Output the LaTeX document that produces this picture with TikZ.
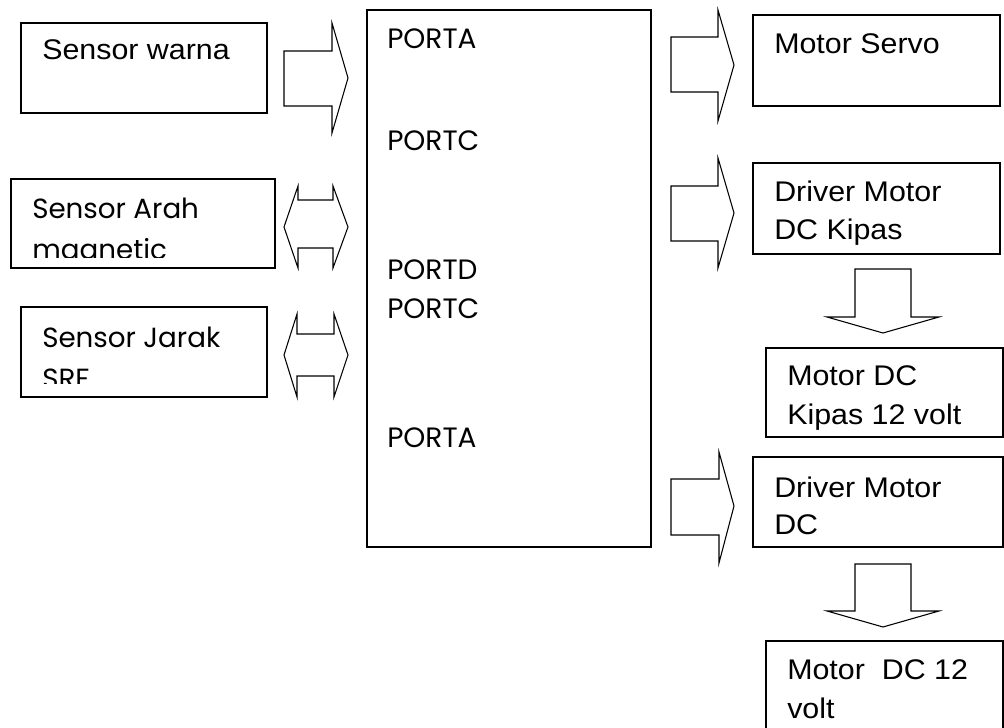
\documentclass[tikz,border=0pt]{standalone}
\usepackage{fontspec}
\newfontfamily\arialfont[FakeStretch=1.07]{Liberation Sans}
\newfontfamily\gothicfont{Poppins}
\begin{document}
\begin{tikzpicture}[x=0.75pt,y=-0.75pt,
  boxline/.style={draw=black,line width=0.8pt},
  blockarrow/.style={draw=black,line width=0.8pt,line join=miter,fill=white},
  arialtext/.style={anchor=base west,inner sep=0pt,font=\arialfont\fontsize{21.3pt}{25pt}\selectfont},
  gothtext/.style={anchor=base west,inner sep=0pt,font=\gothicfont\fontsize{20.8pt}{25pt}\selectfont},
  porttext/.style={anchor=base west,inner sep=0pt,font=\gothicfont\fontsize{21pt}{25pt}\selectfont}]
\useasboundingbox (0,0) rectangle (1004,728);
\fill[white] (0,0) rectangle (1004,728);

% left boxes
\draw[boxline] (21,23) rectangle (267,113);
\coordinate (warna) at (21,23);
\node[arialtext] (twarna) at (42,60) {Sensor warna};

\draw[boxline] (11,179) rectangle (275,268);
\coordinate (arah) at (11,179);
\node[gothtext] (tarah1) at (32,218) {Sensor Arah};
\begin{scope}
  \clip (11,179) rectangle (275,257);
  \node[gothtext] (tarah2) at (32,259) {magnetic};
\end{scope}

\draw[boxline] (21,307) rectangle (267,397);
\coordinate (jarak) at (21,307);
\node[gothtext] (tjarak1) at (42,347) {Sensor Jarak};
\begin{scope}
  \clip (21,307) rectangle (267,383);
  \node[gothtext] (tjarak2) at (42,388) {SRF};
\end{scope}

% microcontroller box
\draw[boxline] (367,10) rectangle (651,547);
\coordinate (mcu) at (367,10);
\node[porttext] (pa1) at (387,48) {PORTA};
\node[porttext] (pc1) at (387,150) {PORTC};
\node[porttext] (pd1) at (387,279) {PORTD};
\node[porttext] (pc2) at (387,318) {PORTC};
\node[porttext] (pa2) at (387,447) {PORTA};

% right boxes
\draw[boxline] (753,15) rectangle (1000,106);
\node[arialtext] (tservo) at (774,53) {Motor Servo};

\draw[boxline] (753,163) rectangle (1000,254);
\node[arialtext] (tdrv1a) at (774,201) {Driver Motor};
\node[arialtext] (tdrv1b) at (774,239) {DC Kipas};

\draw[boxline] (766,348) rectangle (1003,437);
\node[arialtext] (tkipa) at (787,385) {Motor DC};
\node[arialtext] (tkipb) at (787,424) {Kipas 12 volt};

\draw[boxline] (753,457) rectangle (1003,547);
\node[arialtext] (tdrv2a) at (774,497) {Driver Motor};
\node[arialtext] (tdrv2b) at (774,534) {DC};

\draw[boxline] (766,729) -- (766,641) -- (1003,641) -- (1003,729);
\node[arialtext] (tmdca) at (787,679) {Motor\ \ DC 12};
\node[arialtext] (tmdcb) at (787,718) {volt};

% block arrows
\draw[blockarrow] (284,51) -- (332,51) -- (332,23) -- (348,78) -- (332,133) -- (332,106) -- (284,106) -- cycle;
\draw[blockarrow] (284,227) -- (298,186) -- (298,200) -- (333,200) -- (333,186) -- (348,227) -- (333,268) -- (333,248) -- (298,248) -- (298,268) -- cycle;
\draw[blockarrow] (284,355) -- (297,314) -- (297,334) -- (334,334) -- (334,314) -- (348,355) -- (334,397) -- (334,376) -- (297,376) -- (297,397) -- cycle;

\draw[blockarrow] (671,37) -- (718,37) -- (718,10) -- (734,65) -- (718,121) -- (718,92) -- (671,92) -- cycle;
\draw[blockarrow] (671,186) -- (718,186) -- (718,158) -- (734,213) -- (718,268) -- (718,241) -- (671,241) -- cycle;
\draw[blockarrow] (671,479) -- (719,479) -- (719,452) -- (734,506) -- (719,563) -- (719,535) -- (671,535) -- cycle;

\draw[blockarrow] (855,269) -- (911,269) -- (911,317) -- (939,317) -- (883,333) -- (827,317) -- (855,317) -- cycle;
\draw[blockarrow] (855,564) -- (911,564) -- (911,611) -- (939,611) -- (883,627) -- (827,611) -- (855,611) -- cycle;
\end{tikzpicture}
\end{document}
